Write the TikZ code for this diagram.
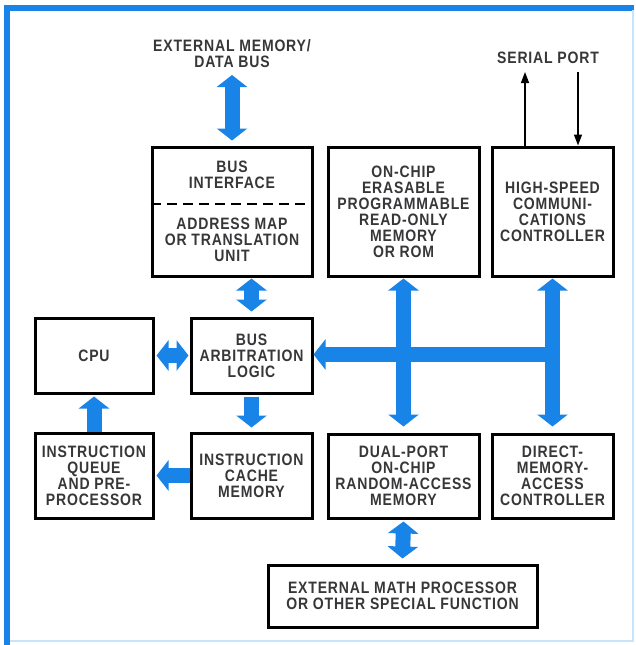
\documentclass[tikz,border=0pt]{standalone}
\usepackage{fontspec}
\setmainfont{Liberation Sans}[FakeStretch=0.85,LetterSpace=5]
\usetikzlibrary{arrows.meta,calc}
\definecolor{busblue}{RGB}{24,132,232}
\definecolor{txtgray}{RGB}{55,55,58}
\definecolor{paleblue}{RGB}{200,228,250}
\tikzset{
  box/.style={draw=black, line width=3pt, fill=white, inner sep=0pt},
  lbl/.style={font=\fontsize{16.5}{16}\selectfont\bfseries, text=txtgray, align=center, inner sep=0pt},
  bus/.style={draw=busblue, line width=15pt},
  busone/.style={bus, -{Triangle[width=30pt,length=12pt]}},
  bustwo/.style={bus, {Triangle[width=30pt,length=12pt]}-{Triangle[width=30pt,length=12pt]}},
  sig/.style={draw=black, line width=1.4pt, -{Triangle[width=8pt,length=11pt]}},
}
\begin{document}
\begin{tikzpicture}[x=1pt,y=-1pt]
\useasboundingbox (0,0) rectangle (636,645);
\fill[white] (0,0) rectangle (636,645);
% frame
\draw[busblue, line width=6pt] (7,645) -- (7,7.5) -- (634,7.5);
\draw[paleblue, line width=2pt] (633,10) -- (633,641) -- (10,641);

% boxes
\node[box, minimum width=160pt, minimum height=129pt] (bi) at (232,211.5) {};
\node[box, minimum width=151pt, minimum height=129pt] (rom) at (403.5,211.5) {};
\node[box, minimum width=121pt, minimum height=129pt] (hscc) at (552.5,211.5) {};
\node[box, minimum width=118pt, minimum height=75pt] (cpu) at (94,355.5) {};
\node[box, minimum width=121pt, minimum height=75pt] (bal) at (251.5,355.5) {};
\node[box, minimum width=118pt, minimum height=85pt] (iq) at (94,475.5) {};
\node[box, minimum width=121pt, minimum height=85pt] (icm) at (251.5,475.5) {};
\node[box, minimum width=151pt, minimum height=84pt] (dpram) at (403.5,476) {};
\node[box, minimum width=121pt, minimum height=84pt] (dma) at (552.5,476) {};
\node[box, minimum width=269pt, minimum height=62pt] (math) at (402.5,596) {};

% dashed divider in bus interface box
\coordinate (dl) at (0,204);
\draw[black, line width=2pt, dash pattern=on 10pt off 6pt] (bi.west |- dl) -- (bi.east |- dl);

% labels
\node[lbl] (bitxt) at (232,175) {BUS\\INTERFACE};
\node[lbl] (amtxt) at (232,240) {ADDRESS MAP\\OR TRANSLATION\\UNIT};
\node[lbl] (romtxt) at (rom) {ON-CHIP\\ERASABLE\\PROGRAMMABLE\\READ-ONLY\\MEMORY\\OR ROM};
\node[lbl] (hscctxt) at (hscc) {HIGH-SPEED\\COMMUNI-\\CATIONS\\CONTROLLER};
\node[lbl] (cputxt) at (cpu) {CPU};
\node[lbl] (baltxt) at (bal) {BUS\\ARBITRATION\\LOGIC};
\node[lbl] (iqtxt) at (iq) {INSTRUCTION\\QUEUE\\AND PRE-\\PROCESSOR};
\node[lbl] (icmtxt) at (icm) {INSTRUCTION\\CACHE\\MEMORY};
\node[lbl] (dpramtxt) at (dpram) {DUAL-PORT\\ON-CHIP\\RANDOM-ACCESS\\MEMORY};
\node[lbl] (dmatxt) at (dma) {DIRECT-\\MEMORY-\\ACCESS\\CONTROLLER};
\node[lbl] (mathtxt) at (math) {EXTERNAL MATH PROCESSOR\\OR OTHER SPECIAL FUNCTION};
\node[lbl] (extmem) at (232,53.5) {EXTERNAL MEMORY/\\DATA BUS};
\node[lbl] (serial) at (548,58) {SERIAL PORT};

% blue buses
\coordinate (emtop) at (232,75);
\draw[bustwo] (emtop) -- ([yshift=5pt]bi.north);
\draw[bustwo] ([yshift=-1pt]bi.south -| bal.north) -- ([yshift=5pt]bal.north);
\draw[bustwo] ([xshift=2pt]cpu.east) -- ([xshift=-1pt]bal.west);
\draw[busone] ([yshift=-2pt]bal.south) -- ([yshift=4pt]icm.north);
\draw[busone] (icm.west) -- ([xshift=2pt]iq.east);
\draw[busone] (iq.north) -- ([yshift=-2pt]cpu.south);
\draw[bustwo] ([yshift=-1pt]rom.south) -- ([yshift=6pt]dpram.north);
\draw[bustwo] ([yshift=-1pt]hscc.south) -- ([yshift=6pt]dma.north);
\coordinate (busright) at (560,354.5);
\draw[busone] (busright) -- (bal.east |- busright);
\draw[bustwo] ([yshift=-2pt]dpram.south) -- ([yshift=5pt]math.north);

% serial port lines
\coordinate (spup) at (525,72);
\coordinate (spdn) at (578,72);
\draw[sig] (hscc.north -| spup) -- (spup);
\draw[sig] (spdn) -- (hscc.north -| spdn);
\end{tikzpicture}
\end{document}
